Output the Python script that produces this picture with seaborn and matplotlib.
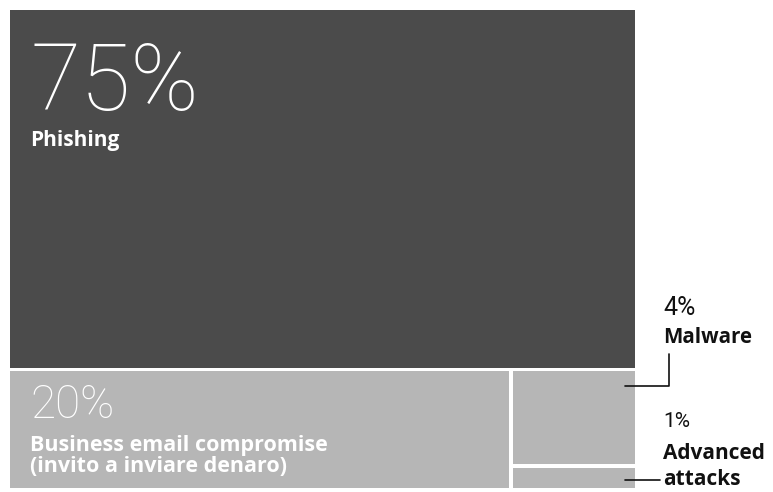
import matplotlib
matplotlib.use("Agg")
import matplotlib.pyplot as plt
import seaborn as sns
from matplotlib.patches import Rectangle

# Data
CATEGORIES = ["Phishing", "Business email compromise\n(invito a inviare denaro)", "Malware", "Advanced\nattacks"]
SHARES = [75, 20, 4, 1]
COLORS = ["#4b4b4b", "#b6b6b6", "#b6b6b6", "#b6b6b6"]

sns.set_theme(style="white")
plt.rcParams["font.family"] = ["Open Sans", "DejaVu Sans"]

fig = plt.figure(figsize=(7.73, 4.92), dpi=100)
ax = fig.add_axes([8 / 773, 2 / 492, 629 / 773, 482 / 492])
ax.set_xlim(0, 1)
ax.set_ylim(0, 1)
ax.axis("off")

total = sum(SHARES)
gap = 0.007

# slice-and-dice treemap: top band, then bottom row, then stacked pair
top_h = SHARES[0] / total
bot_h = 1 - top_h
rest = total - SHARES[0]
w_bec = SHARES[1] / rest
small = SHARES[2] + SHARES[3]
h_mal = bot_h * SHARES[2] / small

rects = [
    (0, bot_h, 1, top_h),
    (0, 0, w_bec, bot_h),
    (w_bec, bot_h - h_mal, 1 - w_bec, h_mal),
    (w_bec, 0, 1 - w_bec, bot_h - h_mal),
]
for (x, y, w, h), c in zip(rects, COLORS):
    ax.add_patch(Rectangle((x + gap / 2, y + gap / 2), w - gap, h - gap,
                           facecolor=c, edgecolor="none"))

def py(pix):
    # pixel row (from figure top) -> axes y
    return 1 - (pix - 8) / 482

thin = ["Roboto", "DejaVu Sans"]

# labels inside
x0 = 22 / 629
ax.text(x0, py(110), f"{SHARES[0]}%", color="white", fontsize=66,
        family=thin, fontweight="light", va="baseline", ha="left")
ax.text(x0, py(146), CATEGORIES[0], color="white", fontsize=15,
        fontweight="bold", va="baseline", ha="left")
ax.text(x0, py(418), f"{SHARES[1]}%", color="white", fontsize=33,
        family=thin, fontweight="light", va="baseline", ha="left")
ax.text(x0, py(472), CATEGORIES[1], color="white", fontsize=15.5,
        fontweight="bold", va="baseline", ha="left", linespacing=1.0)

# labels outside with connectors
lx = 655 / 629
ax.text(lx, py(315), f"{SHARES[2]}%", color="#111111", fontsize=18,
        family=thin, va="baseline", ha="left", clip_on=False)
ax.text(lx, py(343), CATEGORIES[2], color="#111111", fontsize=14.8,
        fontweight="bold", va="baseline", ha="left", clip_on=False)
ax.text(lx, py(427), f"{SHARES[3]}%", color="#111111", fontsize=15,
        family=thin, va="baseline", ha="left", clip_on=False)
ax.text(lx, py(485), CATEGORIES[3], color="#111111", fontsize=15,
        fontweight="bold", va="baseline", ha="left", linespacing=1.32,
        clip_on=False)

ax.plot([617 / 629, 661 / 629, 661 / 629],
        [py(386), py(386), py(354)],
        color="#111111", lw=1.2, clip_on=False)
ax.plot([617 / 629, 652 / 629], [py(480), py(480)],
        color="#111111", lw=1.2, clip_on=False)

fig.savefig("out.png", dpi=100, facecolor="white")
